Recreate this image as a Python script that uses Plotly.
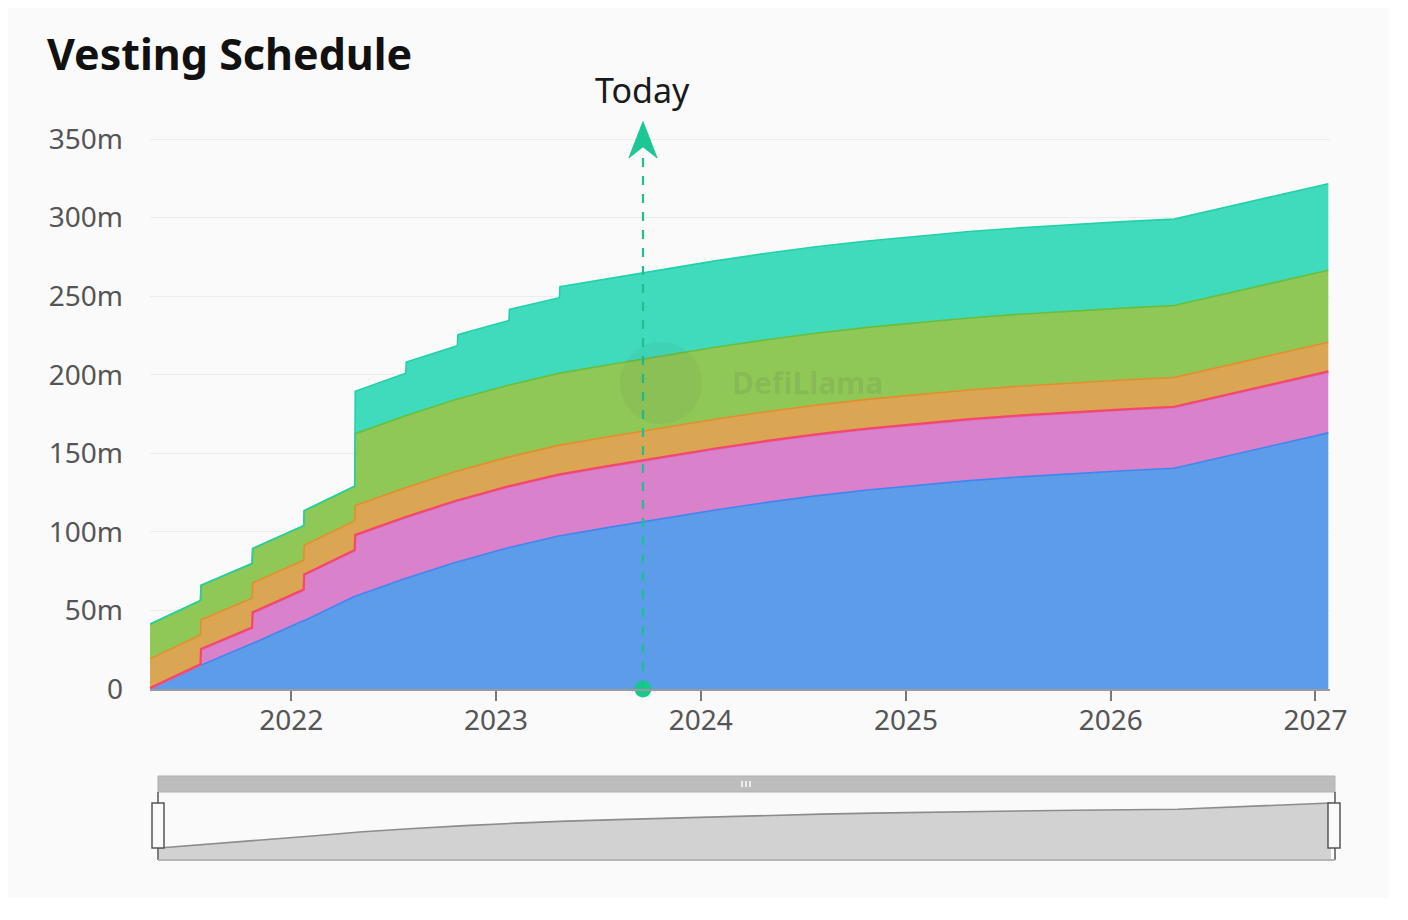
import plotly.graph_objects as go
import numpy as np
import pandas as pd

# ---------------- data ----------------
dates = ["2021-04-24", "2021-07-23", "2021-07-24", "2021-10-23", "2021-10-24",
         "2022-01-23", "2022-01-24", "2022-04-24", "2022-04-25", "2022-07-24",
         "2022-07-25", "2022-10-24", "2022-10-25", "2023-01-24", "2023-01-25",
         "2023-04-24", "2023-04-25", "2023-07-24", "2023-10-24", "2024-01-24",
         "2024-04-24", "2024-07-24", "2024-10-24", "2025-01-24", "2025-04-24",
         "2025-07-24", "2025-10-24", "2026-01-24", "2026-04-24", "2027-01-24"]

blue = [0, 15.2, 15.2, 29.0, 29.0, 43.5, 43.5, 59.0, 59.0, 70.5,
        70.5, 81.0, 81.0, 90.0, 90.0, 97.5, 97.5, 103.0, 108.5, 113.8,
        118.6, 122.9, 126.6, 129.8, 132.6, 135.0, 137.1, 138.9, 140.5, 163.0]
pink = [0, 0, 9.6, 9.6, 19.2, 19.2, 28.8, 28.8, 38.5, 38.5,
        38.5, 38.5, 38.5, 38.5, 38.5, 38.5, 38.5, 38.5, 38.5, 38.5,
        38.5, 38.5, 38.5, 38.5, 38.5, 38.5, 38.5, 38.5, 38.5, 38.5]
red = [0.6, 0.6, 0.6, 0.6, 0.6, 0.6, 0.6, 0.6, 0.6, 0.6,
       0.6, 0.6, 0.6, 0.6, 0.6, 0.6, 0.6, 0.6, 0.6, 0.6,
       0.6, 0.6, 0.6, 0.6, 0.6, 0.6, 0.6, 0.6, 0.6, 0.6]
orange = [18.6, 18.6, 18.6, 18.6, 18.6, 18.6, 18.6, 18.6, 18.6, 18.6,
          18.6, 18.6, 18.6, 18.6, 18.6, 18.6, 18.6, 18.6, 18.6, 18.6,
          18.6, 18.6, 18.6, 18.6, 18.6, 18.6, 18.6, 18.6, 18.6, 18.6]
green = [22.0, 22.0, 22.0, 22.0, 22.0, 22.0, 22.0, 22.0, 45.8, 45.8,
         45.8, 45.8, 45.8, 45.8, 45.8, 45.8, 45.8, 45.8, 45.8, 45.8,
         45.8, 45.8, 45.8, 45.8, 45.8, 45.8, 45.8, 45.8, 45.8, 45.8]
teal = [0, 0, 0, 0, 0, 0, 0, 0, 27, 27,
        34, 34, 41, 41, 48, 48, 55, 55, 55, 55,
        55, 55, 55, 55, 55, 55, 55, 55, 55, 55]

series_names = ["Emissions", "Private Sale", "Liquidity", "Public Sale", "Ecosystem", "Team"]
series_values = [blue, pink, red, orange, green, teal]
fill_colors = ["#5d9ce8", "#d982cb", "#f2506c", "#dba653", "#8fc857", "#40dbbd"]
line_colors = ["#3f86ee", "#d56fc6", "#f5476a", "#e68c2c", "#68bf3c", "#22d1a8"]

today = "2023-09-20"
y_tickvals = [0, 50, 100, 150, 200, 250, 300, 350]
y_ticktext = ["0", "50m", "100m", "150m", "200m", "250m", "300m", "350m"]
x_range = ["2021-04-24", "2027-01-27"]

# ---------------- geometry helpers (reference-pixel based) ----------------
OFF = 8                      # page body margin
W, H = 1400, 912
ML, MR, MT, MB = 142, 60, 102, 50
PW, PH = W - ML - MR, H - MT - MB


def px(x):
    return (x - OFF - ML) / PW


def py(y):
    return (H - MB - (y - OFF)) / PH


fig = go.Figure()

stack = np.cumsum(np.array(series_values, dtype=float), axis=0)
for i, name in enumerate(series_names):
    fig.add_trace(go.Scatter(
        x=dates, y=stack[i], name=name, mode="lines",
        line=dict(color=line_colors[i], width=1.6 if i != 2 else 2.2),
        fill="tozeroy" if i == 0 else "tonexty",
        fillcolor=fill_colors[i],
        hoverinfo="skip", showlegend=False,
        xaxis="x", yaxis="y",
    ))

# Today dashed line + marker + arrow head
top_val = 361.0
fig.add_shape(type="line", xref="x", yref="y", x0=today, x1=today, y0=0, y1=342,
              line=dict(color="#1fbf92", width=2.2, dash="dash"), layer="above")
fig.add_trace(go.Scatter(x=[today], y=[0], mode="markers",
                         marker=dict(color="#14c98f", size=17),
                         cliponaxis=False, hoverinfo="skip", showlegend=False))
t = pd.Timestamp(today)
half = pd.Timedelta(days=25)
fig.add_trace(go.Scatter(
    x=[t, t - half, t, t + half, t],
    y=[top_val, 338, 345, 338, top_val],
    mode="lines", fill="toself", fillcolor="#1cc795",
    line=dict(color="#1cc795", width=1), hoverinfo="skip", showlegend=False))

fig.add_annotation(x=today, xref="x", y=py(90), yref="paper", text="Today",
                   showarrow=False, font=dict(size=34, color="#1a1a1a", family="Noto Sans"),
                   xanchor="center", yanchor="middle")

# watermark
fig.add_annotation(x=px(807), xref="paper", y=py(383), yref="paper", text="<b>DefiLlama</b>",
                   showarrow=False, font=dict(size=30, color="rgba(60,60,60,0.10)", family="Noto Sans"),
                   xanchor="center", yanchor="middle")
fig.add_shape(type="circle", xref="paper", yref="paper",
              x0=px(620), x1=px(702), y0=py(424), y1=py(342),
              fillcolor="rgba(60,60,60,0.06)", line=dict(width=0), layer="above")

# ---------------- slider (data zoom look) ----------------
fig.add_trace(go.Scatter(x=dates, y=blue, mode="lines", fill="tozeroy",
                         fillcolor="#d2d2d2", line=dict(color="#8c8c8c", width=1.6),
                         hoverinfo="skip", showlegend=False, xaxis="x2", yaxis="y2"))
y2_range = [-43.5, 203]
fig.add_shape(type="rect", xref="x2 domain", yref="y2", x0=0, x1=1, y0=y2_range[0], y1=0,
              fillcolor="#d2d2d2", line=dict(width=0), layer="below")
# top bar
fig.add_shape(type="rect", xref="paper", yref="paper", x0=px(158), x1=px(1335), y0=py(792), y1=py(776),
              fillcolor="#bdbdbd", line=dict(color="#b0b0b0", width=1))
for gx in (742, 746, 750):
    fig.add_shape(type="line", xref="paper", yref="paper", x0=px(gx), x1=px(gx), y0=py(781), y1=py(787),
                  line=dict(color="white", width=1.5))
# frame sides/bottom
for sx in (158, 1335):
    fig.add_shape(type="line", xref="paper", yref="paper", x0=px(sx), x1=px(sx), y0=py(860), y1=py(792),
                  line=dict(color="#555", width=1.5))
fig.add_shape(type="line", xref="paper", yref="paper", x0=px(158), x1=px(1335), y0=py(860), y1=py(860),
              line=dict(color="#b5b5b5", width=2))
# handles
for hx in (158, 1334):
    fig.add_shape(type="rect", xref="paper", yref="paper", x0=px(hx - 6), x1=px(hx + 6),
                  y0=py(848), y1=py(803), fillcolor="#fafafa", line=dict(color="#555", width=1.5))

# white strips at the right and bottom edges of the screenshot
fig.add_shape(type="rect", xref="paper", yref="paper", x0=px(1389), x1=px(1412), y0=py(925), y1=py(-5),
              fillcolor="#ffffff", line=dict(width=0), layer="below")
fig.add_shape(type="rect", xref="paper", yref="paper", x0=px(0), x1=px(1412), y0=py(925), y1=py(898),
              fillcolor="#ffffff", line=dict(width=0), layer="below")

tick_font = dict(size=28, color="#555", family="Noto Sans")
fig.update_layout(
    width=W, height=H,
    margin=dict(l=ML, r=MR, t=MT, b=MB),
    paper_bgcolor="#fafafa", plot_bgcolor="rgba(0,0,0,0)",
    title=dict(text="<b>Vesting Schedule</b>", x=(47 - OFF) / W, xanchor="left", xref="container",
               y=1 - (55 - OFF) / H, yref="container", yanchor="middle",
               font=dict(size=43, color="#111", family="Noto Sans")),
    xaxis=dict(type="date", range=x_range, domain=[0, px(1330)],
               tickformat="%Y", dtick="M12", tick0="2022-01-01",
               ticks="outside", ticklen=10, tickwidth=1.5, tickcolor="#777",
               showline=True, linecolor="#9a9a9a", linewidth=1.5,
               showgrid=False, zeroline=False, tickfont=tick_font, ticklabelstandoff=-4),
    yaxis=dict(range=[0, 362], domain=[py(689), py(689 - 362 * (550 / 350))],
               tickvals=y_tickvals, ticktext=y_ticktext,
               showgrid=True, gridcolor="#ededed", gridwidth=1,
               zeroline=False, showline=False, tickfont=tick_font, ticklabelstandoff=26),
    xaxis2=dict(type="date", range=[dates[0], dates[-1]], domain=[px(159), px(1331)],
                anchor="y2", visible=False),
    yaxis2=dict(range=y2_range, domain=[py(860), py(792)], anchor="x2", visible=False),
    showlegend=False,
)

fig.write_html("out.html")
